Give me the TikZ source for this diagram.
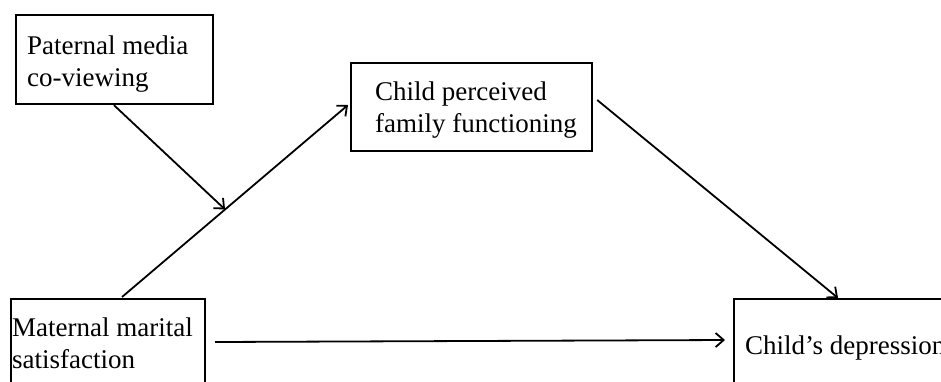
\documentclass[tikz,border=0pt]{standalone}
\usepackage{fontspec}
\setmainfont{Liberation Serif}
\usetikzlibrary{arrows.meta,calc}
\begin{document}
\begin{tikzpicture}[x=1pt,y=-1pt,
  box/.style={draw,line width=2.2pt,rectangle,inner sep=0pt,anchor=north west},
  lbl/.style={anchor=base west,inner sep=0pt,align=left,font=\fontsize{27}{32}\selectfont},
  arr/.style={line width=1.8pt,-{Straight Barb[length=8pt,width=14pt,line width=1.8pt]}}]
\useasboundingbox (0,0) rectangle (941,381);
\clip (0,0) rectangle (941,381);
\fill[white] (0,0) rectangle (941,381);
\node[box,minimum width=197pt,minimum height=89pt] (pat) at (15,14) {};
\node[box,minimum width=241pt,minimum height=88pt] (per) at (350,62) {};
\node[box,minimum width=194pt,minimum height=130pt] (mat) at (10,298) {};
\node[box,minimum width=260pt,minimum height=130pt] (dep) at (733,298) {};
\node[lbl] (patt) at (27,86) {Paternal media\\co-viewing};
\node[lbl] (pert) at (375,132) {Child perceived\\family functioning};
\node[lbl] (matt) at (12,368) {Maternal marital\\satisfaction};
\node[lbl] (dept) at (745,354) {Child’s depression};
\draw[arr] ($(mat.north west)+(112,-1)$) -- ($(per.north west)+(-2,43)$)
  coordinate[pos=0.456] (mid);
\draw[arr] ($(pat.south west)+(99,0)$) -- (mid);
\draw[arr] ($(per.north east)+(4,38)$) -- ($(dep.north west)+(105,0)$);
\draw[arr] ($(mat.north east)+(9,44)$) -- ($(dep.north west)+(-8,42)$);
\end{tikzpicture}
\end{document}
